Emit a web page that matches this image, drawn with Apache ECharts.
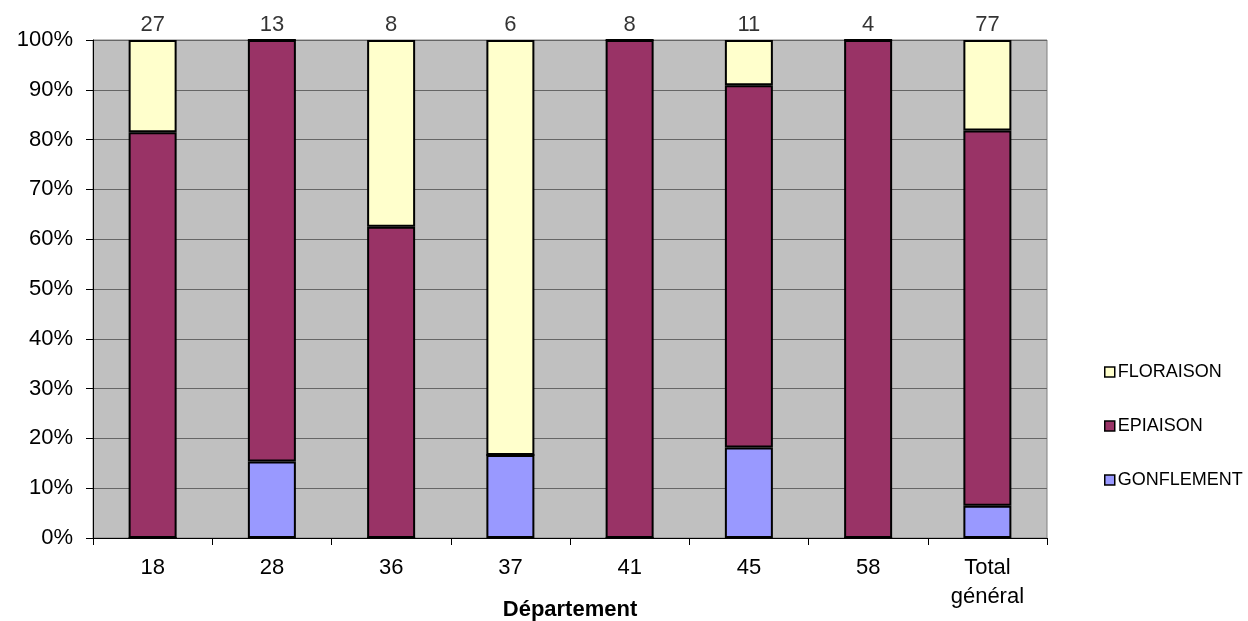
<!DOCTYPE html>
<html><head><meta charset="utf-8">
<script src="https://cdn.jsdelivr.net/npm/echarts@6/dist/echarts.min.js"></script>
<style>html,body{margin:0;padding:0;background:#fff}#c{width:1248px;height:621px}</style>
</head><body><div id="c"></div>
<script>
const categories = ['18','28','36','37','41','45','58','Total\ngénéral'];
const gonflement = [0, 2, 0, 1, 0, 2, 0, 5];
const epiaison   = [22, 11, 5, 0, 8, 8, 4, 58];
const floraison  = [5, 0, 3, 5, 0, 1, 0, 14];
const totals = categories.map((c,i)=>gonflement[i]+epiaison[i]+floraison[i]);
const pct = arr => arr.map((v,i)=> v/totals[i]*100);

const font = 'Arial, "Liberation Sans", sans-serif';
const chart = echarts.init(document.getElementById('c'));
const barStyle = c => ({color:c, borderColor:'#000', borderWidth:2});
chart.setOption({
  animation:false,
  textStyle:{fontFamily:font, color:'#000'},
  grid:{left:93, right:201, top:40, bottom:83, containLabel:false, outerBoundsMode:'none',
        show:true, backgroundColor:'#C0C0C0', borderColor:'#808080', borderWidth:1},
  legend:{
    orient:'vertical', left:1099, top:358, itemGap:36,
    itemWidth:10, itemHeight:10, icon:'rect',
    data:['FLORAISON','EPIAISON','GONFLEMENT'],
    textStyle:{fontFamily:font, fontSize:18, color:'#000', padding:[0,0,0,-2]},
    itemStyle:{borderColor:'#000', borderWidth:1.5}
  },
  xAxis:{
    type:'category', data:categories,
    name:'Département', nameLocation:'middle', nameGap:61, nameMoveOverlap:false,
    nameTextStyle:{fontFamily:font, fontSize:22, fontWeight:'bold', color:'#000'},
    axisLine:{lineStyle:{color:'#000', width:1}},
    axisTick:{show:true, length:7, lineStyle:{color:'#000'}},
    axisLabel:{fontFamily:font, fontSize:22, color:'#000', margin:15, lineHeight:29},
    splitLine:{show:false}
  },
  yAxis:{
    type:'value', min:0, max:100, interval:10,
    axisLine:{show:true, lineStyle:{color:'#000'}},
    axisTick:{show:true, length:7, lineStyle:{color:'#000'}},
    axisLabel:{formatter:'{value}%', fontFamily:font, fontSize:22, color:'#000', margin:20},
    splitLine:{show:true, lineStyle:{color:'#666666', width:1}}
  },
  series:[
    {name:'GONFLEMENT', type:'bar', stack:'s', barWidth:48, data:pct(gonflement), itemStyle:barStyle('#9999FF')},
    {name:'EPIAISON', type:'bar', stack:'s', barWidth:48, data:pct(epiaison), itemStyle:barStyle('#993366')},
    {name:'FLORAISON', type:'bar', stack:'s', barWidth:48, data:pct(floraison), itemStyle:barStyle('#FFFFCC')},
    {name:'total', type:'scatter', symbolSize:0, data:totals.map(()=>100), silent:true,
     label:{show:true, position:'top', distance:4, fontFamily:font, fontSize:22, color:'#000',
       formatter:p=>String(totals[p.dataIndex])}}
  ]
});
</script></body></html>
